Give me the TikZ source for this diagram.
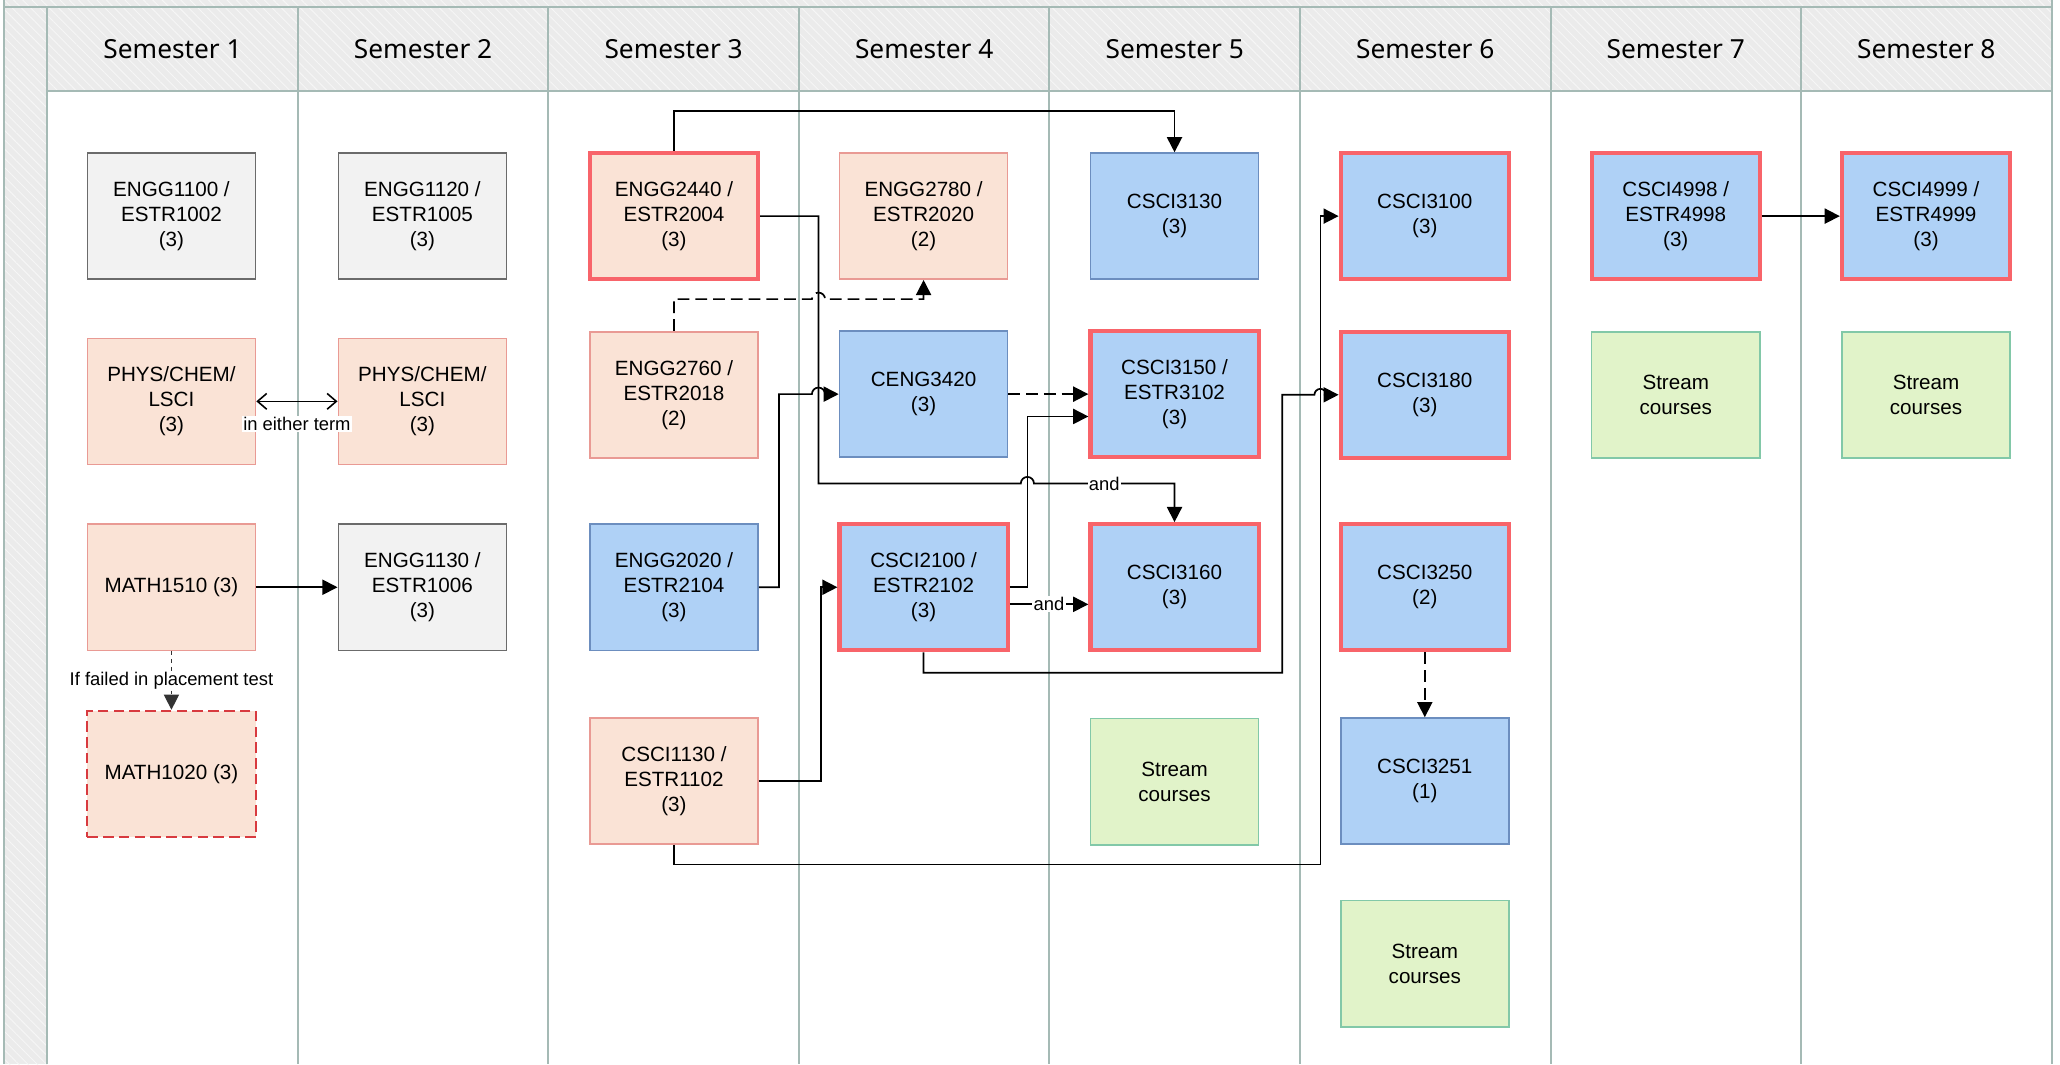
\documentclass[tikz,border=0pt]{standalone}
\usepackage{fontspec}
\setmainfont{Liberation Sans}
\newfontfamily\headfont{Noto Sans}
\usepackage{tikz}
\usetikzlibrary{calc, positioning, arrows.meta, patterns.meta}

\definecolor{lanefill}{HTML}{EBEBEB}
\definecolor{hatch}{HTML}{F6F6F6}
\definecolor{laneline}{HTML}{A5BAB5}
\definecolor{genfill}{HTML}{F2F2F2}
\definecolor{genline}{HTML}{6B6B6B}
\definecolor{facfill}{HTML}{FAE3D6}
\definecolor{facline}{HTML}{E99A94}
\definecolor{majfill}{HTML}{AFD1F6}
\definecolor{majline}{HTML}{6C8EBF}
\definecolor{coreline}{HTML}{F8646A}
\definecolor{strfill}{HTML}{E1F3C9}
\definecolor{strline}{HTML}{82C8A8}
\definecolor{failred}{HTML}{D83A3F}

\begin{document}
\begin{tikzpicture}[x=1pt, y=1pt,
    course/.style={draw, rectangle, minimum width=128pt, minimum height=96pt, inner sep=0pt, align=center, line width=1.2pt, font=\fontsize{15.7}{19}\selectfont},
    general/.style={course, fill=genfill, draw=genline},
    faculty/.style={course, fill=facfill, draw=facline},
    major/.style={course, fill=majfill, draw=majline},
    stream/.style={course, fill=strfill, draw=strline},
    core/.style={draw=coreline, line width=3.2pt},
    head/.style={font=\headfont\fontsize{20}{24}\selectfont},
    lane/.style={draw=laneline, line width=1.5pt},
    conn/.style={line width=1.3pt, -{Triangle[length=11.5pt, width=11.5pt]}},
    opt/.style={dash pattern=on 9pt off 4.5pt},
    lbl/.style={fill=white, inner sep=1pt, font=\fontsize{14}{16}\selectfont}]

    \useasboundingbox (0,0) rectangle (1568,-810);
    \fill[white] (0,0) rectangle (1568,-810);

    % swimlane frame
    \fill[lanefill] (3.3,0) rectangle (1561.6,-69);
    \fill[lanefill] (3.3,0) rectangle (36,-810);
    \fill[pattern={Lines[angle=-45, distance=5pt, line width=0.7pt]}, pattern color=hatch] (3.3,0) rectangle (1561.6,-69);
    \fill[pattern={Lines[angle=-45, distance=5pt, line width=0.7pt]}, pattern color=hatch] (3.3,-69) rectangle (36,-810);
    \draw[lane] (3.3,0) -- (3.3,-810);
    \draw[lane] (3.3,-5.6) -- (1561.6,-5.6);
    \draw[lane] (36,-69) -- (1561.6,-69);
    \draw[lane] (36,-5.6) -- (36,-810);
    \draw[lane] (226.7,-5.6) -- (226.7,-810);
    \draw[lane] (417.4,-5.6) -- (417.4,-810);
    \draw[lane] (608.1,-5.6) -- (608.1,-810);
    \draw[lane] (798.8,-5.6) -- (798.8,-810);
    \draw[lane] (989.5,-5.6) -- (989.5,-810);
    \draw[lane] (1180.2,-5.6) -- (1180.2,-810);
    \draw[lane] (1370.9,-5.6) -- (1370.9,-810);
    \draw[lane] (1561.6,0) -- (1561.6,-810);

    \node[head](S_1) at (131.35,-37.3) {Semester 1};
    \node[head](S_2) at (322.05,-37.3) {Semester 2};
    \node[head](S_3) at (512.75,-37.3) {Semester 3};
    \node[head](S_4) at (703.45,-37.3) {Semester 4};
    \node[head](S_5) at (894.15,-37.3) {Semester 5};
    \node[head](S_6) at (1084.85,-37.3) {Semester 6};
    \node[head](S_7) at (1275.55,-37.3) {Semester 7};
    \node[head](S_8) at (1466.25,-37.3) {Semester 8};

    % semester 1 and 2
    \node[general](ENGG1100) at (130.5,-164.5) {ENGG1100 /\\ESTR1002\\(3)};
    \node[faculty](PHYS_1) at (130.5,-305.5) {PHYS/CHEM/\\LSCI\\(3)};
    \node[faculty](MATH1510) at (130.5,-447) {MATH1510 (3)};
    \node[faculty, draw=failred, line width=1.5pt, dash pattern=on 8pt off 4pt](MATH1020) at (130.5,-589) {MATH1020 (3)};
    \node[general](ENGG1120) at (321.5,-164.5) {ENGG1120 /\\ESTR1005\\(3)};
    \node[faculty](PHYS_2) at (321.5,-305.5) {PHYS/CHEM/\\LSCI\\(3)};
    \node[general](ENGG1130) at (321.5,-447) {ENGG1130 /\\ESTR1006\\(3)};

    % semester 3 and 4
    \node[faculty, core](ENGG2440) at (513,-164.5) {ENGG2440 /\\ESTR2004\\(3)};
    \node[faculty](ENGG2760) at (513,-300.5) {ENGG2760 /\\ESTR2018\\(2)};
    \node[major](ENGG2020) at (513,-447) {ENGG2020 /\\ESTR2104\\(3)};
    \node[faculty](CSCI1130) at (513,-594.5) {CSCI1130 /\\ESTR1102\\(3)};
    \node[faculty](ENGG2780) at (703,-164.5) {ENGG2780 /\\ESTR2020\\(2)};
    \node[major](CENG3420) at (703,-300) {CENG3420\\(3)};
    \node[major, core](CSCI2100) at (703,-447) {CSCI2100 /\\ESTR2102\\(3)};

    % semester 5 and 6
    \node[major](CSCI3130) at (894,-164.5) {CSCI3130\\(3)};
    \node[major, core](CSCI3150) at (894,-300) {CSCI3150 /\\ESTR3102\\(3)};
    \node[major, core](CSCI3160) at (894,-447) {CSCI3160\\(3)};
    \node[stream](Stream_5) at (894,-595) {Stream\\courses};
    \node[major, core](CSCI3100) at (1084.5,-164.5) {CSCI3100\\(3)};
    \node[major, core](CSCI3180) at (1084.5,-300.5) {CSCI3180\\(3)};
    \node[major, core](CSCI3250) at (1084.5,-447) {CSCI3250\\(2)};
    \node[major](CSCI3251) at (1084.5,-594.5) {CSCI3251\\(1)};
    \node[stream](Stream_6) at (1084.5,-733.5) {Stream\\courses};

    % semester 7 and 8
    \node[major, core](CSCI4998) at (1275.5,-164.5) {CSCI4998 /\\ESTR4998\\(3)};
    \node[stream](Stream_7) at (1275.5,-300.5) {Stream\\courses};
    \node[major, core](CSCI4999) at (1466,-164.5) {CSCI4999 /\\ESTR4999\\(3)};
    \node[stream](Stream_8) at (1466,-300.5) {Stream\\courses};

    % prerequisites
    \draw[line width=1.2pt, {Straight Barb[length=7pt, width=12pt]}-{Straight Barb[length=7pt, width=12pt]}] (PHYS_1.east) -- (PHYS_2.west) node[lbl, midway, yshift=-17.5pt]{in either term};
    \draw[conn] (MATH1510.east) -- (ENGG1130.west);
    \draw[conn, line width=0.9pt, draw=black!80, dash pattern=on 3pt off 3pt] (MATH1510.south) -- (MATH1020.north) node[lbl, midway]{If failed in placement test};
    \draw[conn] (ENGG2440.north) -- ++(0,30.5) -| (CSCI3130.north);
    \draw[conn, opt] (ENGG2760.north) -- (513,-227.7) -- (618,-227.7) arc[start angle=180, end angle=0, radius=5] -- (703,-227.7) -- (ENGG2780.south);
    \draw[conn] (ENGG2440.east) -- (623,-164.5) -- (623,-368) -- (777,-368) arc[start angle=180, end angle=0, radius=5] -- node[lbl]{and} (894,-368) -- (CSCI3160.north);
    \draw[conn] (ENGG2020.east) -- (593,-447) -- (593,-300) -- (618,-300) arc[start angle=180, end angle=0, radius=5] -- (CENG3420.west);
    \draw[conn, opt] (CENG3420.east) -- (CSCI3150.west);
    \draw[conn] (CSCI2100.east) -- (782,-447) -- (782,-317) -- ($(CSCI3150.west)+(0,-17)$);
    \draw[conn] ($(CSCI2100.east)+(0,-13)$) -- node[lbl]{and} ($(CSCI3160.west)+(0,-13)$);
    \draw[conn] (CSCI1130.east) -- (625,-594.5) -- (625,-447) -- (CSCI2100.west);
    \draw[conn] (CSCI2100.south) -- (703,-512) -- (976,-512) -- (976,-300.5) -- (1000.5,-300.5) arc[start angle=180, end angle=0, radius=4.5] -- (CSCI3180.west);
    \draw[conn] (CSCI1130.south) -- (513,-658) -- (1005,-658) -- (1005,-164.5) -- (CSCI3100.west);
    \draw[conn, opt] (CSCI3250.south) -- (CSCI3251.north);
    \draw[conn] (CSCI4998.east) -- (CSCI4999.west);
\end{tikzpicture}
\end{document}
